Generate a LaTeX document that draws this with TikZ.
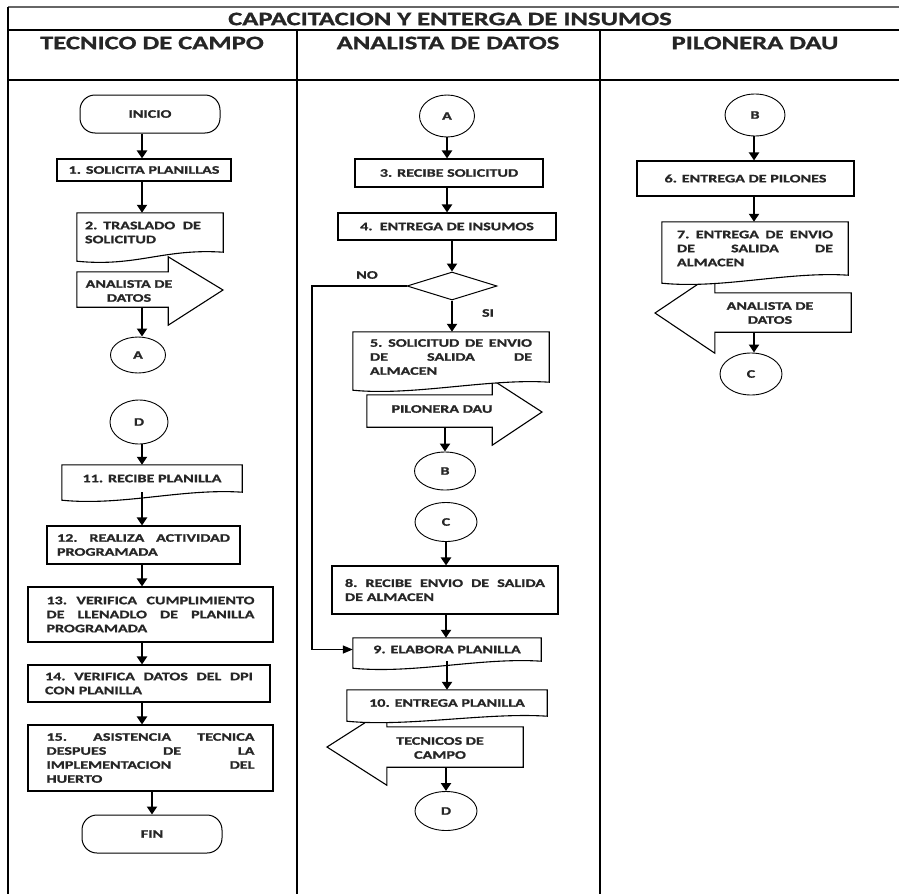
\documentclass[tikz,border=0pt]{standalone}
\usepackage{fontspec}
\setmainfont{Carlito}[FakeStretch=1.4, BoldFeatures={FakeBold=1.2}]
\usetikzlibrary{arrows.meta,shapes.geometric,calc,backgrounds}

\newcommand{\boxtext}{\fontsize{11.5}{14}\selectfont\bfseries}
\newcommand{\headtext}{\fontsize{19}{22}\selectfont\bfseries}

% document outline with wavy bottom, drawn behind the text
\newcommand{\docout}[2]{%
  \begin{pgfonlayer}{background}
  \draw[outline] ($(#1.south west)+(0,#2)$) -- (#1.north west) -- (#1.north east) -- (#1.south east)
    .. controls +(-60,-4) and +(60,6) .. ($(#1.south west)+(0,#2)$) -- cycle;
  \end{pgfonlayer}}

\tikzset{
  lane/.style={line width=1.2pt, black},
  proc/.style={draw, line width=1.1pt, inner sep=0pt, font=\boxtext, text=black!85},
  docu/.style={inner sep=0pt, font=\boxtext, text=black!85},
  term/.style={draw, line width=1pt, rounded corners=15pt, minimum width=140pt, minimum height=38pt, font=\boxtext, text=black!85},
  conn/.style={draw, ellipse, line width=0.9pt, inner sep=0pt, font=\boxtext, text=black!85},
  outline/.style={draw, line width=1.1pt, fill=white},
  flow/.style={line width=2.2pt, -{Triangle[width=10pt,length=8pt]}},
  noflow/.style={line width=1.3pt, -{Triangle[width=8pt,length=10pt]}},
  tag/.style={font=\boxtext, text=black!85, align=center}
}

\begin{document}
\begin{tikzpicture}[x=1pt, y=-1pt]
\useasboundingbox (0,0) rectangle (899,894);

% frame and lanes
\draw[lane, black!60, line width=2pt] (8,7) -- (899,7);
\draw[lane] (8,7) -- (8,894);
\draw[lane] (8,30) -- (899,30);
\draw[lane] (8,80) -- (899,80);
\draw[lane] (297,30) -- (297,894);
\draw[lane] (600,30) -- (600,894);

\node[font=\headtext, text=black!85] (title) at (450,19) {CAPACITACION Y ENTERGA DE INSUMOS};
\node[font=\headtext, text=black!85] (tecnico) at (152,43) {TECNICO DE CAMPO};
\node[font=\headtext, text=black!85] (analista) at (448,43) {ANALISTA DE DATOS};
\node[font=\headtext, text=black!85] (pilonera) at (755,43) {PILONERA DAU};

% lane 1
\node[term] (inicio) at (150,114) {INICIO};
\node[proc, minimum width=174pt, minimum height=22pt] (s1) at (144,170) {1. SOLICITA PLANILLAS};
\node[docu, minimum width=146pt, minimum height=39pt, text width=130pt, align=left] (s2) at (150,232.5) {2. TRASLADO\ \ DE\\SOLICITUD};
\node[minimum width=91pt, minimum height=35pt, inner sep=0pt] (an1) at (122.5,289.5) {};
\node[tag] (an1t) at (129,291) {ANALISTA DE\\DATOS};
\coordinate (an1tip) at (223,290);
\node[conn, minimum width=55pt, minimum height=36pt] (A1) at (138,355) {A};

\node[conn, minimum width=58pt, minimum height=44pt] (D1) at (139,422) {D};
\node[docu, minimum width=180pt, minimum height=27pt] (s11) at (152,478.5) {11. RECIBE PLANILLA};
\node[proc, minimum width=193pt, minimum height=38pt, text width=173pt, align=left] (s12) at (143.5,545) {12.\hfill REALIZA\hfill ACTIVIDAD\\PROGRAMADA};
\node[proc, minimum width=245pt, minimum height=55pt, text width=208pt, align=left] (s13) at (150.5,614.5) {13.\hfill VERIFICA\hfill CUMPLIMIENTO\\DE\hfill LLENADLO\hfill DE\hfill PLANILLA\\PROGRAMADA};
\node[proc, minimum width=242pt, minimum height=37pt, text width=208pt, align=left] (s14) at (149,683.5) {14.\hfill VERIFICA\hfill DATOS\hfill DEL\hfill DPI\\CON PLANILLA};
\node[proc, minimum width=245pt, minimum height=66pt, text width=208pt, align=left] (s15) at (150.5,758) {15.\hfill ASISTENCIA\hfill TECNICA\\DESPUES\hfill DE\hfill LA\\IMPLEMENTACION\hfill DEL\\HUERTO};
\node[term] (fin) at (152,834) {FIN};

% lane 2
\node[conn, minimum width=55pt, minimum height=42pt] (A2) at (447,116) {A};
\node[proc, minimum width=188pt, minimum height=28pt] (s3) at (449,173) {3. RECIBE SOLICITUD};
\node[proc, minimum width=218pt, minimum height=27pt] (s4) at (447,226.5) {4.\ \ ENTREGA DE INSUMOS};
\node[draw, diamond, line width=1pt, inner sep=0pt, minimum width=90pt, minimum height=28pt] (dec) at (452,286) {};
\node[tag] (no) at (367,275) {NO};
\node[tag] (si) at (488,313) {SI};
\node[docu, minimum width=196pt, minimum height=50pt, text width=162pt, align=left] (s5) at (451,357) {5.\hfill SOLICITUD\hfill DE\hfill ENVIO\\DE\hfill SALIDA\hfill DE\\ALMACEN};
\node[minimum width=125pt, minimum height=32pt, inner sep=0pt] (pd) at (429.5,411) {};
\node[tag] (pdt) at (442,409) {PILONERA DAU};
\coordinate (pdtip) at (542,412);
\node[conn, minimum width=61pt, minimum height=38pt] (B2) at (445,471) {B};
\node[conn, minimum width=62pt, minimum height=39pt] (C2) at (446,522) {C};
\node[proc, minimum width=226pt, minimum height=48pt, text width=200pt, align=left] (s8) at (445,590) {8.\hfill RECIBE\hfill ENVIO\hfill DE\hfill SALIDA\\DE ALMACEN};
\node[docu, minimum width=188pt, minimum height=23pt] (s9) at (447,649.5) {9. ELABORA PLANILLA};
\node[docu, minimum width=200pt, minimum height=26pt] (s10) at (447,703) {10. ENTREGA PLANILLA};
\node[minimum width=136pt, minimum height=40pt, inner sep=0pt] (tc) at (455,747) {};
\node[tag] (tct) at (440,748) {TECNICOS DE\\CAMPO};
\coordinate (tctip) at (327,747);
\node[conn, minimum width=62pt, minimum height=39pt] (D2) at (446,811) {D};

% lane 3
\node[conn, minimum width=60pt, minimum height=42pt] (B3) at (755,115) {B};
\node[proc, minimum width=217pt, minimum height=35pt] (s6) at (745.5,178.5) {6. ENTREGA DE PILONES};
\node[docu, minimum width=186pt, minimum height=53pt, text width=156pt, align=left] (s7) at (755,248.5) {7.\hfill ENTREGA\hfill DE\hfill ENVIO\\DE\hfill SALIDA\hfill DE\\ALMACEN};
\node[minimum width=136pt, minimum height=39pt, inner sep=0pt] (ad) at (783,312.5) {};
\node[tag] (adt) at (770,313) {ANALISTA DE\\DATOS};
\coordinate (adtip) at (655,313);
\node[conn, minimum width=62pt, minimum height=42pt] (C3) at (751,374) {C};

% off-page arrows, then documents on top of them
\begin{pgfonlayer}{background}
\draw[outline] (an1.north west) -- (an1.north east) -- ++(0,-15) -- (an1tip) -- ($(an1.south east)+(0,18)$) -- (an1.south east) -- (an1.south west) -- cycle;
\draw[outline] (pd.north west) -- (pd.north east) -- ++(0,-15) -- (pdtip) -- ($(pd.south east)+(0,18)$) -- (pd.south east) -- (pd.south west) -- cycle;
\draw[outline] (tc.north east) -- (tc.north west) -- ++(0,-18) -- (tctip) -- ($(tc.south west)+(0,18)$) -- (tc.south west) -- (tc.south east) -- cycle;
\draw[outline] (ad.north east) -- (ad.north west) -- ++(0,-20) -- (adtip) -- ($(ad.south west)+(0,21)$) -- (ad.south west) -- (ad.south east) -- cycle;
\end{pgfonlayer}
\docout{s2}{9}
\docout{s11}{8}
\docout{s5}{8}
\docout{s9}{7}
\docout{s10}{5}
\docout{s7}{8}

% connectors
\coordinate (l1) at (142,0);
\coordinate (l2) at (447,0);
\coordinate (l3) at (754,0);
\coordinate (nobend) at (312,0);

\draw[flow] (inicio.south -| l1) -- (s1.north -| l1);
\draw[flow] (s1.south -| l1) -- (s2.north -| l1);
\draw[flow] (an1.south -| l1) -- (A1.north -| l1);
\draw[flow] (D1.south -| l1) -- (s11.north -| l1);
\draw[flow] (s11.south -| l1) -- (s12.north -| l1);
\draw[flow] (s12.south -| l1) -- (s13.north -| l1);
\draw[flow] (s13.south -| l1) -- (s14.north -| l1);
\draw[flow] (s14.south -| l1) -- (s15.north -| l1);
\draw[flow] (s15.south -| fin) -- (fin.north);

\draw[flow] (A2.south -| l2) -- (s3.north -| l2);
\draw[flow] (s3.south -| l2) -- (s4.north -| l2);
\draw[flow] (s4.south -| dec) -- (dec.north);
\draw[flow] (dec.south) -- (s5.north -| dec);
\draw[noflow] (dec.west) -- (dec.west -| nobend) |- (s9.west);
\draw[flow] (pd.south -| B2) -- (B2.north);
\draw[flow] (C2.south) -- (s8.north -| C2);
\draw[flow] (s8.south -| C2) -- (s9.north -| C2);
\draw[flow] (s9.south -| l2) -- (s10.north -| l2);
\draw[flow] (tc.south -| D2) -- (D2.north);

\draw[flow] (B3.south -| l3) -- (s6.north -| l3);
\draw[flow] (s6.south -| l3) -- (s7.north -| l3);
\draw[flow] (ad.south -| l3) -- (C3.north -| l3);
\end{tikzpicture}
\end{document}
